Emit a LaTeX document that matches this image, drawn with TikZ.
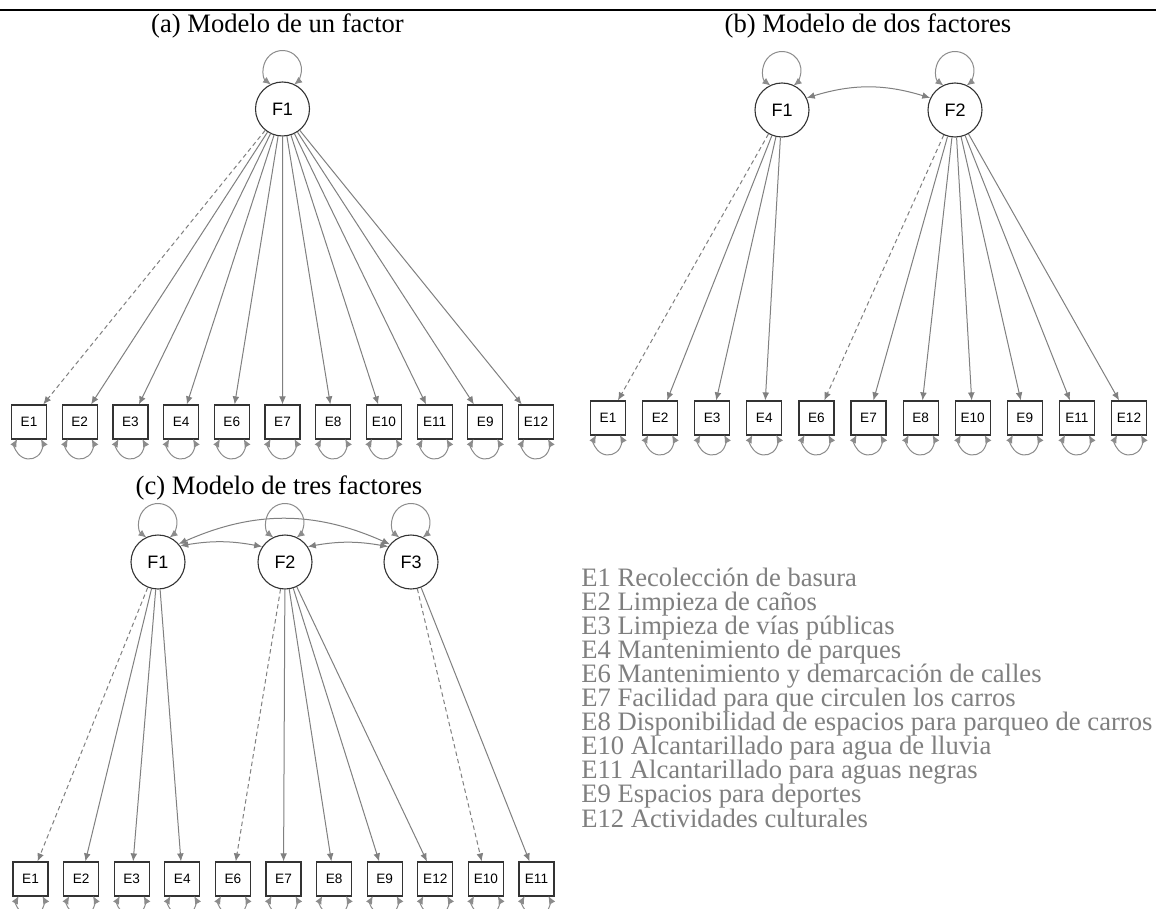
\documentclass[tikz,border=0pt]{standalone}
\usepackage{fontspec}
\setmainfont{Liberation Serif}
\newfontfamily\arialf{Liberation Sans}
\usetikzlibrary{arrows.meta,calc}
\definecolor{edgegray}{HTML}{808080}
\definecolor{loopgray}{HTML}{8C8C8C}
\definecolor{bordergray}{HTML}{333333}
\definecolor{legendgray}{HTML}{7F7F7F}
\newcommand\latloop[1]{\draw[selfvar] ($(#1.center)+(-11.54,24.41)$) arc[start angle=232.6,end angle=-52.6,radius=19];}
\newcommand\obsloop[1]{\draw[selfvar] ($(#1.center)+(-11.8,-17)$) arc[start angle=151.2,end angle=388.8,radius=13.5];}
\begin{document}
\begin{tikzpicture}[x=0.5pt,y=0.5pt,
  latent/.style={circle,draw=bordergray,line width=0.55pt,minimum size=27pt,inner sep=0pt,font=\arialf\fontsize{9}{10}\selectfont},
  obs/.style={rectangle,draw=bordergray,line width=0.6pt,minimum width=17.5pt,minimum height=17pt,inner sep=0pt,font=\arialf\fontsize{6.8}{8}\selectfont},
  load/.style={draw=edgegray,line width=0.5pt,-{Latex[length=4pt,width=3.4pt]}},
  fixedload/.style={load,dash pattern=on 2.2pt off 1.6pt},
  cov/.style={draw=edgegray,line width=0.5pt,{Latex[length=4pt,width=3.4pt]}-{Latex[length=4pt,width=3.4pt]}},
  selfvar/.style={draw=loopgray,line width=0.5pt,{Latex[length=4pt,width=3.4pt]}-{Latex[length=4pt,width=3.4pt]}},
  ttl/.style={font=\fontsize{13.3}{16}\selectfont,anchor=base,inner sep=0pt},
  lgd/.style={font=\fontsize{13.3}{16}\selectfont,text=legendgray,anchor=base west,inner sep=0pt}
]
\clip (0,0) rectangle (1156,-909);
\fill[white] (0,0) rectangle (1156,-909);
\draw[line width=1pt] (0,-10) -- (1156,-10);

% ---------- titles
\node[ttl] (ta) at (277.5,-33) {(a) Modelo de un factor};
\node[ttl] (tb) at (868,-33) {(b) Modelo de dos factores};
\node[ttl] (tc) at (279,-494) {(c) Modelo de tres factores};

% ---------- panel (a)
\node[latent] (aF1) at (282.5,-109) {F1};
\foreach \lab [count=\i from 0] in {1,2,3,4,6,7,8,10,11,9,12}
  \node[obs] (aE\lab) at ({29+50.7*\i},-422) {E\lab};
\draw[fixedload] (aF1) -- (aE1);
\foreach \k in {2,3,4,6,7,8,10,11,9,12} \draw[load] (aF1) -- (aE\k);
\latloop{aF1}
\foreach \k in {1,2,3,4,6,7,8,10,11,9,12} {\obsloop{aE\k}}

% ---------- panel (b)
\node[latent] (bF1) at (782,-110) {F1};
\node[latent] (bF2) at (955,-110) {F2};
\foreach \lab [count=\i from 0] in {1,2,3,4,6,7,8,10,9,11,12}
  \node[obs] (bE\lab) at ({608+52.1*\i},-418) {E\lab};
\draw[fixedload] (bF1) -- (bE1);
\foreach \k in {2,3,4} \draw[load] (bF1) -- (bE\k);
\draw[fixedload] (bF2) -- (bE6);
\foreach \k in {7,8,10,9,11,12} \draw[load] (bF2) -- (bE\k);
\draw[cov] (bF1.26) to[bend left=17] (bF2.154);
\latloop{bF1}
\latloop{bF2}
\foreach \k in {1,2,3,4,6,7,8,10,9,11,12} {\obsloop{bE\k}}

% ---------- panel (c)
\node[latent] (cF1) at (158,-562) {F1};
\node[latent] (cF2) at (285,-562) {F2};
\node[latent] (cF3) at (411,-562) {F3};
\foreach \lab [count=\i from 0] in {1,2,3,4,6,7,8,9,12,10,11}
  \node[obs] (cE\lab) at ({30.5+50.6*\i},-879) {E\lab};
\draw[fixedload] (cF1) -- (cE1);
\foreach \k in {2,3,4} \draw[load] (cF1) -- (cE\k);
\draw[fixedload] (cF2) -- (cE6);
\foreach \k in {7,8,9,12} \draw[load] (cF2) -- (cE\k);
\draw[fixedload] (cF3) -- (cE10);
\draw[load] (cF3) -- (cE11);
\draw[cov] (cF1.36) to[bend left=10] (cF2.146);
\draw[cov] (cF2.34) to[bend left=10] (cF3.146);
\draw[cov] (cF1.41) to[bend left=24] (cF3.140);
\latloop{cF1}
\latloop{cF2}
\latloop{cF3}
\foreach \k in {1,2,3,4,6,7,8,9,12,10,11} {\obsloop{cE\k}}

% ---------- legend
\foreach \t [count=\i from 0] in {%
  E1 Recolección de basura,
  E2 Limpieza de caños,
  E3 Limpieza de vías públicas,
  E4 Mantenimiento de parques,
  E6 Mantenimiento y demarcación de calles,
  E7 Facilidad para que circulen los carros,
  E8 Disponibilidad de espacios para parqueo de carros,
  E10 Alcantarillado para agua de lluvia,
  E11 Alcantarillado para aguas negras,
  E9 Espacios para deportes,
  E12 Actividades culturales}
  \node[lgd] (L\i) at (581,{-586-24.1*\i}) {\t};
\end{tikzpicture}
\end{document}
